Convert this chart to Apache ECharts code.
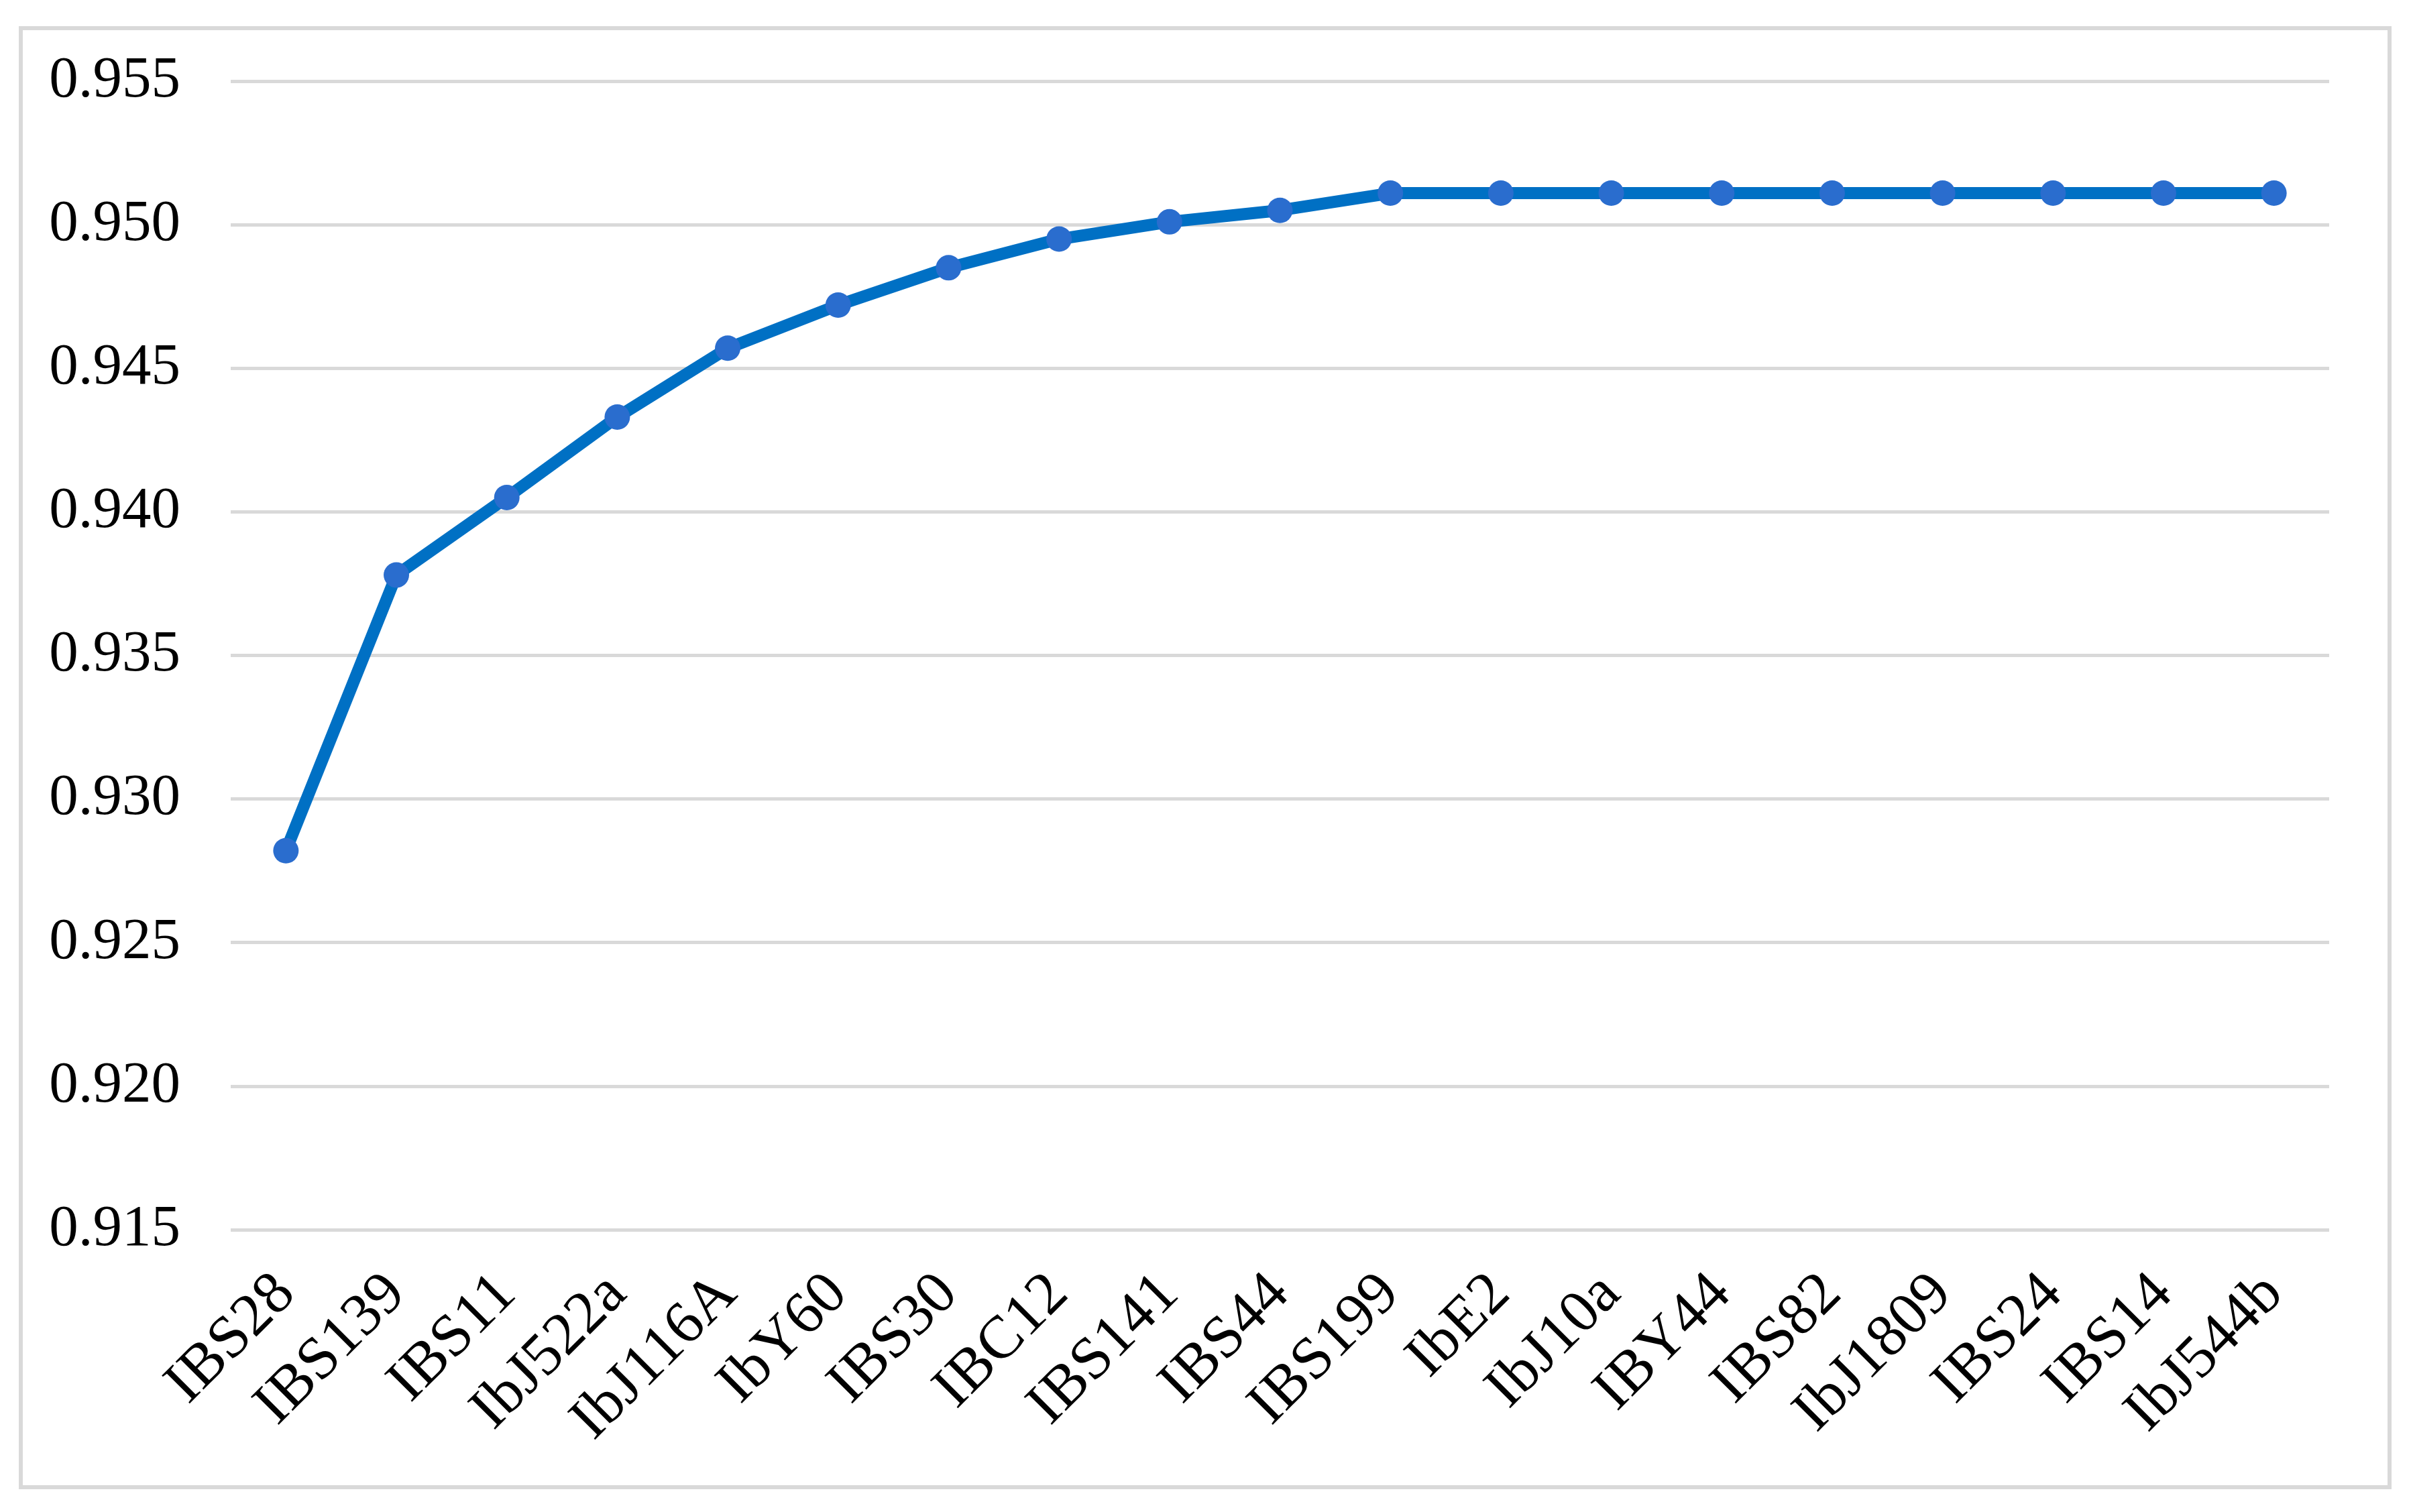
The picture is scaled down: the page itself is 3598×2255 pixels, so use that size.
<!DOCTYPE html>
<html>
<head>
<meta charset="utf-8">
<script src="https://cdn.jsdelivr.net/npm/echarts@6/dist/echarts.min.js"></script>
<style>
html,body{margin:0;padding:0;background:#fff;}
#chart{width:3598px;height:2255px;}
</style>
</head>
<body>
<div id="chart"></div>
<script>
const categories = ['IBS28','IBS139','IBS11','IbJ522a','IbJ116A','IbY60','IBS30','IBC12','IBS141','IBS44','IBS199','IbE2','IbJ10a','IBY44','IBS82','IbJ1809','IBS24','IBS14','IbJ544b'];
const values = [0.9282,0.9378,0.9405,0.9433,0.9457,0.9472,0.9485,0.9495,0.9501,0.9505,0.9511,0.9511,0.9511,0.9511,0.9511,0.9511,0.9511,0.9511,0.9511];
const yMin = 0.915, yMax = 0.955, yStep = 0.005;

const chart = echarts.init(document.getElementById('chart'), null, {renderer:'canvas'});
const font = '"Liberation Serif","Times New Roman",serif';
chart.setOption({
  backgroundColor:'#ffffff',
  animation:false,
  graphic:[{
    type:'rect', left:28, top:39, silent:true,
    shape:{width:3532, height:2176},
    style:{fill:'none', stroke:'#d9d9d9', lineWidth:6}
  }],
  grid:{left:344, right:125, top:121, bottom:421, containLabel:false},
  xAxis:{
    type:'category', data:categories, boundaryGap:true,
    axisLine:{show:false}, axisTick:{show:false},
    axisLabel:{rotate:45, margin:82, interval:0, color:'#000', fontFamily:font, fontSize:90}
  },
  yAxis:{
    type:'value', min:yMin, max:yMax, interval:yStep,
    axisLine:{show:false}, axisTick:{show:false},
    axisLabel:{margin:75, color:'#000', fontFamily:font, fontSize:87,
      formatter:v=>v.toFixed(3)},
    splitLine:{show:true, lineStyle:{color:'#d9d9d9', width:5}}
  },
  series:[{
    type:'line', data:values,
    symbol:'circle', symbolSize:38,
    lineStyle:{color:'#0070c4', width:18},
    itemStyle:{color:'#2a6dce'}
  }]
});
</script>
</body>
</html>
